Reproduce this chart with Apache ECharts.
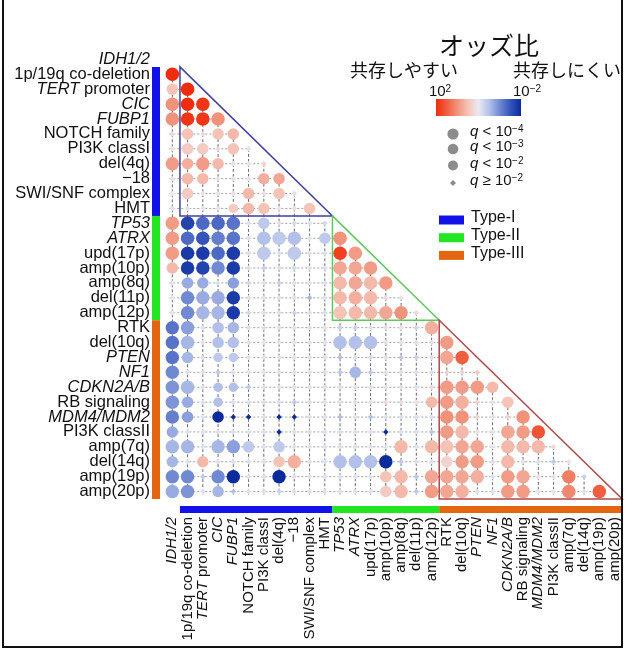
<!DOCTYPE html>
<html><head><meta charset="utf-8">
<script src="https://cdn.jsdelivr.net/npm/echarts@6/dist/echarts.min.js"></script>
<style>html,body{margin:0;padding:0;background:#fff}#c{width:626px;height:649px}</style>
</head><body><div id="c"></div>
<script>
const features = ['IDH1/2','1p/19q co-deletion','TERT promoter','CIC','FUBP1','NOTCH family','PI3K classI','del(4q)','\u221218','SWI/SNF complex','HMT','TP53','ATRX','upd(17p)','amp(10p)','amp(8q)','del(11p)','amp(12p)','RTK','del(10q)','PTEN','NF1','CDKN2A/B','RB signaling','MDM4/MDM2','PI3K classII','amp(7q)','del(14q)','amp(19p)','amp(20p)'];
const italicTerms = ['IDH1/2','TERT','CIC','FUBP1','TP53','ATRX','PTEN','NF1','CDKN2A/B','MDM4/MDM2'];
const groupNames = ['Type-I','Type-II','Type-III'];
const groupFirst = [1, 12, 19];
const groupLast = [11, 18, 30];

// log10(odds ratio); row k -> feature k+2, columns -> features 1..k+1
const logOdds = [
 [2.0],
 [0.5, 2.0],
 [1.0, 2.0, 1.9],
 [1.0, 1.9, 1.9, 1.0],
 [0.2, 0.5, 0.2, 0.5, 0.6],
 [0.1, 0.4, 0.4, 0.2, 0.5, 0.1],
 [0.9, 0.7, 0.9, 0.6, 0.1, 0.1, 0.3],
 [0.1, 0.6, 0.6, 0.1, 0.1, 0.1, 0.7, 0.8],
 [0.0, 0.4, 0.1, 0.1, 0.1, 0.6, 0.1, 0.5, 0.2],
 [-0.1, 0.1, 0.1, 0.1, 0.4, 0.6, 0.5, 0.1, 0.2, 0.5],
 [0.9, -1.7, -1.3, -1.3, -1.2, -0.1, -0.4, -0.1, -0.2, -0.1, -0.2],
 [0.9, -1.3, -1.5, -1.1, -1.2, -0.1, -0.5, -0.4, -0.5, -0.1, -0.4, 1.0],
 [0.9, -1.8, -1.8, -1.3, -1.8, -0.1, -0.4, -0.1, -0.4, -0.1, -0.1, 1.8, 0.9],
 [0.6, -1.8, -1.7, -1.0, -1.8, -0.1, -0.3, -0.1, -0.2, -0.1, -0.1, 0.8, 0.8, 0.9],
 [0.1, -0.7, -0.7, -0.1, -0.8, -0.2, -0.1, -0.3, -0.1, -0.1, -0.1, 0.6, 0.8, 0.6, 0.9],
 [0.1, -1.0, -0.7, -0.7, -1.8, -0.1, -0.1, -0.1, -0.1, -0.6, -0.1, 0.6, 0.7, 0.6, 0.2, 0.1],
 [0.1, -1.0, -0.6, -0.6, -1.8, -0.2, -0.1, -0.1, -0.3, -0.1, -0.1, 0.5, 0.6, 0.6, 0.8, 1.0, 0.2],
 [-1.2, -0.8, -0.1, -0.5, -0.6, -0.1, -0.1, -0.1, -0.1, -0.1, 0.1, -0.3, -0.3, -0.1, -0.1, 0.1, -0.2, 0.7],
 [-1.2, -0.6, 0.1, -0.5, -0.5, -0.1, 0.1, 0.1, 0.1, -0.1, -0.1, -0.5, -0.5, -0.5, -0.1, -0.1, -0.1, -0.1, 0.9],
 [-1.2, -0.6, -0.1, -0.4, -0.4, -0.1, -0.1, -0.1, -0.1, -0.1, -0.1, -0.5, -0.1, -0.2, -0.1, -0.4, -0.3, -0.1, 0.8, 1.5],
 [-1.0, -0.1, -0.1, -0.4, -0.1, 0.1, 0.1, -0.1, -0.1, -0.1, 0.2, -0.4, -0.6, -0.4, -0.1, -0.1, -0.1, -0.1, 0.3, 0.3, 0.4],
 [-0.9, -0.6, -0.1, -0.5, -0.5, -0.4, -0.1, -0.1, -0.1, -0.1, -0.1, -0.1, -0.1, -0.1, -0.1, -0.1, -0.1, 0.2, 0.9, 0.9, 0.9, 0.6],
 [-0.9, -0.7, -0.1, -0.5, -0.1, -0.1, -0.1, -0.1, -0.4, -0.1, -0.1, -0.1, -0.1, -0.1, 0.2, 0.2, 0.1, 0.6, 0.9, 0.7, 0.3, 0.1, 0.5],
 [-1.1, -0.8, -0.1, -2.0, -2.0, -2.0, -0.1, -2.0, -2.0, -0.1, -0.1, -0.5, -0.1, -0.5, -0.1, -0.1, -0.1, -0.1, 1.0, 1.0, 0.3, 0.1, 0.3, 1.0],
 [-0.7, -0.1, -0.1, -0.1, -0.1, -0.1, -0.1, -2.0, -0.1, 0.2, -0.1, -0.1, -0.1, -0.1, -2.0, -0.1, -0.1, -0.4, 0.9, 0.6, 0.1, 0.1, 0.8, 0.9, 1.6],
 [-0.6, -0.6, -0.1, -0.6, -0.8, -0.4, -0.1, -0.4, -0.1, -0.1, -0.1, -0.1, -0.1, -0.1, -0.1, 0.6, -0.1, 0.6, 0.5, 0.8, 0.8, 0.1, 0.6, 0.6, 0.6, 0.2],
 [-0.6, -0.1, 0.6, -0.1, -0.1, -0.1, -0.1, 0.5, 0.7, -0.1, -0.1, -0.5, -0.5, -0.5, -2.0, -0.4, -0.1, -0.1, 0.3, 0.9, 0.9, -0.1, 0.6, -0.1, -0.1, -0.4, 0.1],
 [-1.0, -1.0, -0.4, -1.0, -2.0, -0.1, -0.1, -2.0, -0.1, -0.1, -0.1, -0.1, -0.1, -0.1, 0.5, 0.6, -0.4, 0.8, 0.8, 0.8, 0.7, -0.1, 0.9, 0.8, 0.1, 0.1, 1.2, -0.3],
 [-0.7, -0.9, -0.1, -0.6, -0.5, -0.1, -0.1, -0.3, -0.1, -0.1, -0.1, -0.1, -0.1, -0.1, 0.4, 0.6, -0.4, 0.9, 0.8, 0.7, -0.1, -0.1, 0.9, 0.9, 0.1, 0.1, 1.1, 0.1, 1.5]
];
// q-value class: 3 = q<1e-4, 2 = q<1e-3, 1 = q<1e-2, 0 = q>=1e-2
const qLevel = [
 [3],
 [2, 3],
 [3, 3, 3],
 [3, 3, 3, 3],
 [0, 2, 0, 2, 2],
 [0, 2, 2, 0, 2, 0],
 [3, 2, 3, 2, 0, 0, 0],
 [0, 2, 2, 0, 0, 0, 2, 2],
 [0, 2, 0, 0, 0, 2, 0, 2, 0],
 [0, 0, 0, 0, 1, 2, 2, 0, 0, 2],
 [3, 3, 3, 3, 3, 0, 2, 0, 0, 0, 0],
 [3, 3, 3, 3, 3, 0, 3, 3, 3, 0, 2, 3],
 [3, 3, 3, 3, 3, 0, 3, 0, 3, 0, 0, 3, 3],
 [2, 3, 3, 3, 3, 0, 0, 0, 0, 0, 0, 3, 3, 3],
 [0, 2, 2, 0, 2, 0, 0, 0, 0, 0, 0, 3, 3, 3, 3],
 [0, 3, 3, 3, 3, 0, 0, 0, 0, 0, 0, 3, 3, 3, 0, 0],
 [0, 3, 3, 3, 3, 0, 0, 0, 0, 0, 0, 3, 3, 3, 3, 3, 0],
 [3, 3, 0, 2, 2, 0, 0, 0, 0, 0, 0, 0, 0, 0, 0, 0, 0, 3],
 [3, 3, 0, 2, 2, 0, 0, 0, 0, 0, 0, 3, 3, 3, 0, 0, 0, 0, 3],
 [3, 2, 0, 1, 1, 0, 0, 0, 0, 0, 0, 0, 0, 0, 0, 0, 0, 0, 3, 3],
 [3, 0, 0, 0, 0, 0, 0, 0, 0, 0, 0, 0, 2, 0, 0, 0, 0, 0, 0, 0, 0],
 [3, 3, 0, 1, 1, 0, 0, 0, 0, 0, 0, 0, 0, 0, 0, 0, 0, 0, 3, 3, 3, 2],
 [3, 2, 0, 1, 0, 0, 0, 0, 0, 0, 0, 0, 0, 0, 0, 0, 0, 2, 3, 3, 0, 0, 2],
 [3, 2, 0, 2, 0, 0, 0, 0, 0, 0, 0, 0, 0, 0, 0, 0, 0, 0, 3, 3, 0, 0, 0, 3],
 [2, 0, 0, 0, 0, 0, 0, 0, 0, 0, 0, 0, 0, 0, 0, 0, 0, 0, 3, 3, 0, 0, 3, 3, 3],
 [3, 3, 0, 3, 3, 2, 0, 2, 0, 0, 0, 0, 0, 0, 0, 3, 0, 3, 3, 3, 3, 0, 3, 3, 3, 0],
 [2, 0, 2, 0, 0, 0, 0, 2, 3, 0, 0, 3, 3, 3, 3, 0, 0, 0, 2, 3, 3, 0, 3, 0, 0, 0, 0],
 [3, 3, 0, 3, 3, 0, 0, 3, 0, 0, 0, 0, 0, 0, 2, 3, 0, 3, 3, 3, 3, 0, 3, 3, 0, 0, 3, 0],
 [3, 3, 0, 2, 0, 0, 0, 0, 0, 0, 0, 0, 0, 0, 2, 3, 0, 3, 3, 3, 0, 0, 3, 3, 0, 0, 3, 0, 3]
];
const qLegendOps = ['<', '<', '<', '\u2265'];
const qLegendExps = ['\u22124', '\u22123', '\u22122', '\u22122'];
const oddsTickExps = ['2', '\u22122'];
const oddsTitle = 'オッズ比';
const oddsLeftLabel = '共存しやすい';
const oddsRightLabel = '共存しにくい';

// ---- styles ----
const groupColors = ['#1212e8', '#22e622', '#e2650f'];
const triangleColors = ['#40409e', '#5fc95f', '#b24848'];
const colorStops = ['#0b2b9c', '#3553bb', '#7189d2', '#b3c1ea', '#e9e9f2', '#f6c3b7', '#f1927b', '#f05d3f', '#f02c0c'];
const sizeByQ = [5.5, 9.5, 11.5, 13.5];
const latin = '"Liberation Sans", Arial, sans-serif';
const cjk = '"Noto Sans CJK JP", sans-serif';

function fmtLabel(v) {
  for (const t of italicTerms) {
    if (v === t || v.startsWith(t + ' ')) {
      const rest = v.slice(t.length);
      return '{i|' + t + '}' + (rest ? '{n|' + rest + '}' : '');
    }
  }
  return '{n|' + v + '}';
}

const cells = [];
logOdds.forEach((row, r) => row.forEach((v, c) => cells.push([c, r + 1, v, qLevel[r][c]])));

const gridLines = [];
for (let i = 2; i <= features.length; i++) gridLines.push([0.8, i, i - 1, i, 0]);
for (let j = 1; j < features.length; j++) gridLines.push([j, j + 1, j, features.length + 0.2, 1]);

const groupIdx = groupNames.map((_, g) => [g]);

function corner(g) { return [Math.max(groupFirst[g], 2) - 0.5, groupLast[g] + 0.5]; }

const chart = echarts.init(document.getElementById('c'));
const gradStops = colorStops.slice().reverse().map((c, i, a) => ({offset: i / (a.length - 1), color: c}));

const qLegendY = [134, 149, 165.5, 183];
const graphics = [
  {type: 'rect', shape: {x: 3, y: -3, width: 619, height: 650}, style: {fill: 'none', stroke: '#111', lineWidth: 2}, z: 100},
  {type: 'text', x: 489, y: 45, style: {text: oddsTitle, font: '25px ' + cjk, fill: '#111', align: 'center', verticalAlign: 'middle'}},
  {type: 'text', x: 404, y: 70, style: {text: oddsLeftLabel, font: '18px ' + cjk, fill: '#111', align: 'center', verticalAlign: 'middle'}},
  {type: 'text', x: 567, y: 70, style: {text: oddsRightLabel, font: '18px ' + cjk, fill: '#111', align: 'center', verticalAlign: 'middle'}},
  {type: 'rect', shape: {x: 436, y: 99, width: 85, height: 17}, style: {fill: new echarts.graphic.LinearGradient(0, 0, 1, 0, gradStops)}},
];
[440, 527].forEach((x, k) => graphics.push({type: 'text', x: x, y: 92, style: {text: '10{s|' + oddsTickExps[k] + '}', font: '15px ' + latin, fill: '#111', align: 'center', verticalAlign: 'middle', rich: {s: {fontSize: 10, fontFamily: 'Liberation Sans', verticalAlign: 'top', fill: '#111'}}}}));
qLegendOps.forEach((op, k) => {
  const y = qLegendY[k];
  if (k < 3) graphics.push({type: 'circle', shape: {cx: 453, cy: y, r: [5.6, 5.3, 5.0][k]}, style: {fill: '#8c8c8c'}});
  else graphics.push({type: 'polygon', shape: {points: [[453, y - 3], [456, y], [453, y + 3], [450, y]]}, style: {fill: '#8c8c8c'}});
  graphics.push({type: 'text', x: 470, y: y - 2, style: {text: '{q|q} ' + op + ' 10{s|' + qLegendExps[k] + '}', font: '15px ' + latin, fill: '#111', verticalAlign: 'middle', rich: {q: {fontStyle: 'italic', fontSize: 15, fontFamily: 'Liberation Sans', fill: '#111'}, s: {fontSize: 10, fontFamily: 'Liberation Sans', verticalAlign: 'top', fill: '#111'}}}});
});
groupNames.forEach((name, g) => {
  const y = 220 + g * 17.7;
  graphics.push({type: 'rect', shape: {x: 439, y: y - 4.5, width: 25, height: 9}, style: {fill: groupColors[g]}});
  graphics.push({type: 'text', x: 471, y: y - 2, style: {text: name, font: '16px ' + latin, fill: '#111', verticalAlign: 'middle'}});
});

chart.setOption({
  animation: false,
  backgroundColor: '#fff',
  grid: {left: 164.7, right: 3.8, top: 52, bottom: 150, containLabel: false, outerBoundsMode: 'none'},
  xAxis: [
    {type: 'category', data: features, position: 'bottom', axisLine: {show: false}, axisTick: {show: false}, splitLine: {show: false},
     axisLabel: {interval: 0, rotate: 90, margin: 18, formatter: fmtLabel, color: '#111',
       rich: {i: {fontStyle: 'italic', fontSize: 15, fontFamily: 'Liberation Sans', color: '#111'}, n: {fontSize: 15, fontFamily: 'Liberation Sans', color: '#111'}}}},
    {type: 'value', min: 0.5, max: 30.5, show: false}
  ],
  yAxis: [
    {type: 'category', data: features, inverse: true, axisLine: {show: false}, axisTick: {show: false}, splitLine: {show: false},
     axisLabel: {interval: 0, margin: 14.7, formatter: fmtLabel, color: '#111',
       rich: {i: {fontStyle: 'italic', fontSize: 16.5, fontFamily: 'Liberation Sans', color: '#111'}, n: {fontSize: 16.5, fontFamily: 'Liberation Sans', color: '#111'}}}},
    {type: 'value', min: 0.5, max: 30.5, inverse: true, show: false}
  ],
  visualMap: {type: 'continuous', show: false, min: -2, max: 2, dimension: 2, seriesIndex: [3], inRange: {color: colorStops}},
  graphic: {elements: graphics},
  series: [
    {type: 'custom', xAxisIndex: 1, yAxisIndex: 1, z: 1, silent: true, data: gridLines,
     renderItem: (p, api) => {
       const a = api.coord([api.value(0), api.value(1)]);
       const b = api.coord([api.value(2), api.value(3)]);
       const vert = api.value(4) === 1;
       return {type: 'line', shape: {x1: a[0], y1: a[1], x2: b[0], y2: b[1]},
         style: {stroke: vert ? '#6a6a6a' : '#a0a0a0', lineWidth: 1, lineDash: vert ? [3, 2] : [2, 2]}};
     }},
    {type: 'custom', xAxisIndex: 1, yAxisIndex: 1, z: 5, silent: true, clip: false, data: groupIdx,
     renderItem: (p, api) => {
       const g = api.value(0); const [a, b] = corner(g);
       const pts = [[a, a], [a, b], [b, b]].map(q => api.coord(q));
       return {type: 'polygon', shape: {points: pts}, style: {fill: 'none', stroke: triangleColors[g], lineWidth: 1.5}};
     }},
    {type: 'custom', xAxisIndex: 1, yAxisIndex: 1, z: 5, silent: true, clip: false, data: groupIdx,
     renderItem: (p, api) => {
       const g = api.value(0); const [a, b] = corner(g);
       const tl = api.coord([a, a]); const br = api.coord([b, b]);
       const edge = api.coord([0.5, 30.5]);
       return {type: 'group', children: [
         {type: 'rect', shape: {x: edge[0] - 12.7, y: tl[1], width: 8, height: br[1] - tl[1]}, style: {fill: groupColors[g]}},
         {type: 'rect', shape: {x: tl[0], y: edge[1] + 7, width: br[0] - tl[0], height: 7}, style: {fill: groupColors[g]}}
       ]};
     }},
    {type: 'scatter', xAxisIndex: 0, yAxisIndex: 0, z: 3, data: cells, silent: true,
     symbol: v => v[3] === 0 ? 'diamond' : 'circle',
     symbolSize: v => sizeByQ[v[3]],
     itemStyle: {opacity: 1}}
  ]
});
</script></body></html>
